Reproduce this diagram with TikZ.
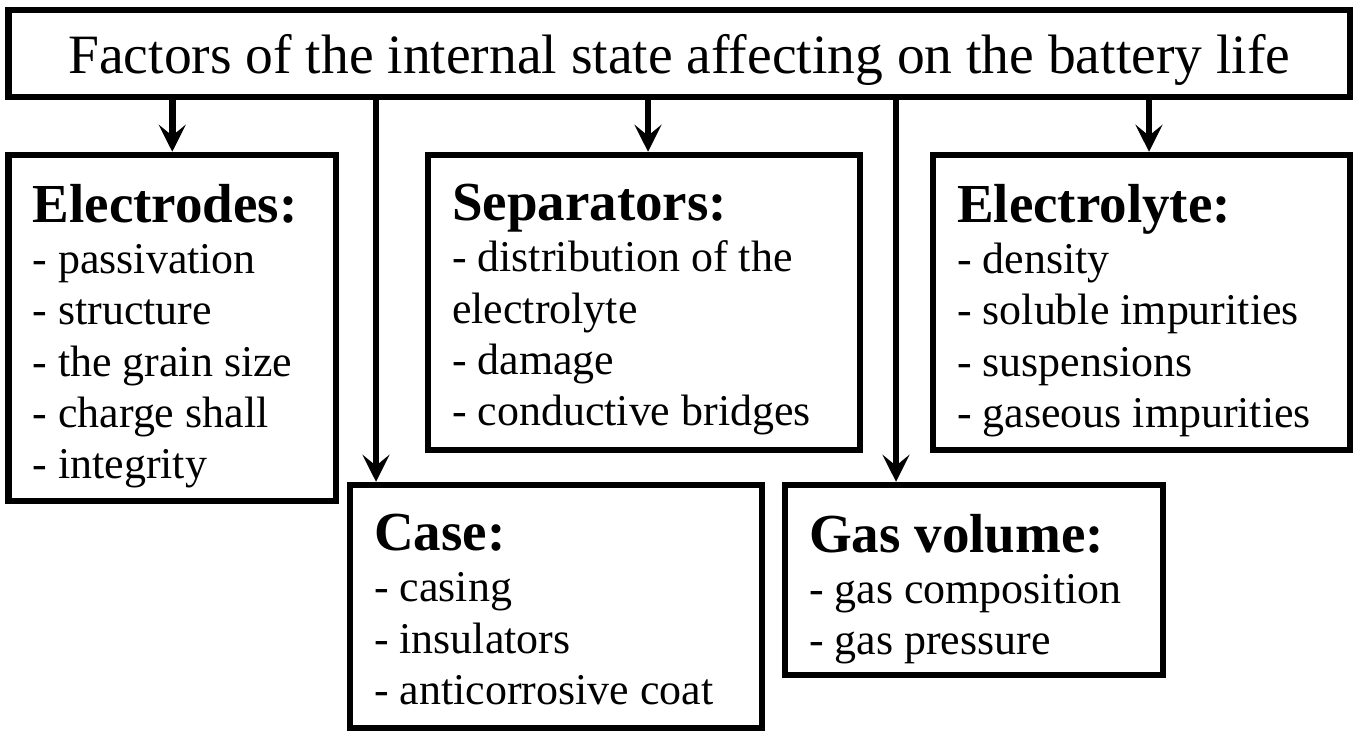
\documentclass[tikz,border=0pt]{standalone}
\usepackage{fontspec}
\setmainfont{Liberation Serif}
\usetikzlibrary{arrows.meta}
\newcommand{\hd}[1]{{\fontsize{31.3}{36}\selectfont\bfseries #1}}

\begin{document}
\begin{tikzpicture}[
    box/.style={draw, line width=0.13cm, anchor=north west, inner sep=0pt},
    txt/.style={anchor=north west, align=left, inner sep=0pt, font=\fontsize{25}{29.2}\selectfont},
    arr/.style={line width=0.13cm, -{Stealth[length=0.54cm, width=0.54cm, inset=0.22cm]}}]
  \useasboundingbox (0,0) rectangle (27.26,-14.84);
  % title
  \node[box, anchor=center, minimum width=26.83cm, minimum height=1.74cm,
        font=\fontsize{31.6}{36}\selectfont, text height=25pt, text depth=1.7pt]
        (title) at (13.585,-1.07) {Factors of the internal state affecting on the battery life};
  % boxes
  \node[box, minimum width=6.55cm, minimum height=6.92cm] (elec) at (0.105,-3.035) {};
  \node[box, minimum width=8.64cm, minimum height=5.90cm] (sep) at (8.495,-3.035) {};
  \node[box, minimum width=8.34cm, minimum height=5.90cm] (elyte) at (18.595,-3.035) {};
  \node[box, minimum width=8.24cm, minimum height=4.86cm] (case) at (6.935,-9.635) {};
  \node[box, minimum width=7.56cm, minimum height=3.80cm] (gas) at (15.635,-9.635) {};
  % texts
  \node[txt] (elec-t) at ([xshift=0.54cm, yshift=-0.64cm]elec.north west)
    {\hd{Electrodes:}\\- passivation\\- structure\\- the grain size\\- charge shall\\- integrity};
  \node[txt] (sep-t) at ([xshift=0.54cm, yshift=-0.64cm]sep.north west)
    {\hd{Separators:}\\- distribution of the\\electrolyte\\- damage\\- conductive bridges};
  \node[txt] (elyte-t) at ([xshift=0.54cm, yshift=-0.64cm]elyte.north west)
    {\hd{Electrolyte:}\\- density\\- soluble impurities\\- suspensions\\- gaseous impurities};
  \node[txt] (case-t) at ([xshift=0.54cm, yshift=-0.64cm]case.north west)
    {\hd{Case:}\\- casing\\- insulators\\- anticorrosive coat};
  \node[txt] (gas-t) at ([xshift=0.54cm, yshift=-0.64cm]gas.north west)
    {\hd{Gas volume:}\\- gas composition\\- gas pressure};
  % arrows
  \coordinate (sep-in) at ([xshift=0.08cm]sep.north);
  \coordinate (elyte-in) at ([xshift=0.15cm]elyte.north);
  \coordinate (case-in) at ([xshift=0.585cm]case.north west);
  \coordinate (gas-in) at ([xshift=2.285cm]gas.north west);
  \draw[arr] (title.south -| elec.north) -- (elec.north);
  \draw[arr] (title.south -| case-in) -- (case-in);
  \draw[arr] (title.south -| sep-in) -- (sep-in);
  \draw[arr] (title.south -| gas-in) -- (gas-in);
  \draw[arr] (title.south -| elyte-in) -- (elyte-in);
\end{tikzpicture}
\end{document}
